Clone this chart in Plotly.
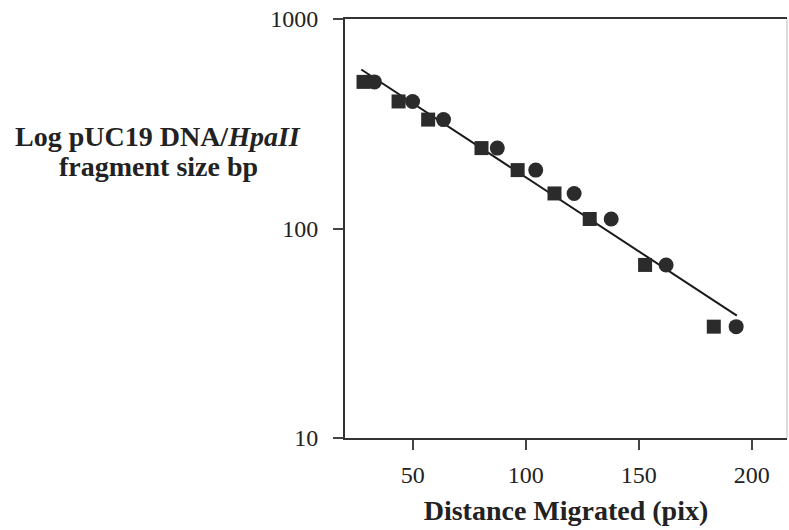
import plotly.graph_objects as go

# Data
fragment_bp = [501, 404, 331, 242, 190, 147, 111, 67, 34]
dist_square = [28.2, 43.7, 56.8, 80.4, 96.4, 112.7, 128.3, 152.8, 183.2]
dist_circle = [33.0, 49.9, 63.6, 87.4, 104.4, 121.4, 137.8, 162.1, 193.1]
fit_x = [27.2, 193.4]
fit_y = [574, 38.4]

x_ticks = [50, 100, 150, 200]
y_ticks = [10, 100, 1000]
y_ticklabels = ["10", "100", "1000"]

mark_color = "#2b2b2b"
font_family = "Liberation Serif, Times New Roman, serif"

fig = go.Figure()
fig.add_trace(go.Scatter(x=fit_x, y=fit_y, mode="lines",
                         line=dict(color="#1a1a1a", width=2), showlegend=False,
                         hoverinfo="skip"))
fig.add_trace(go.Scatter(x=dist_square, y=fragment_bp, mode="markers",
                         marker=dict(symbol="square", size=14, color=mark_color),
                         showlegend=False))
fig.add_trace(go.Scatter(x=dist_circle, y=fragment_bp, mode="markers",
                         marker=dict(symbol="circle", size=15, color=mark_color),
                         showlegend=False))

fig.update_layout(
    width=789, height=530,
    margin=dict(l=345, r=2, t=19, b=92),
    paper_bgcolor="white", plot_bgcolor="white",
    font=dict(family=font_family, size=24, color="#222"),
    xaxis=dict(range=[20, 215.6], tickvals=x_ticks, ticks="outside", ticklen=10,
               tickwidth=1.5, tickcolor="#444", showline=True, linewidth=2,
               linecolor="#333", mirror=True, showgrid=False, zeroline=False,
               ticklabelstandoff=4,
               title=dict(text="<b>Distance Migrated (pix)</b>",
                          font=dict(size=28, family=font_family, color="#222"),
                          standoff=14)),
    yaxis=dict(type="log", range=[1, 3], tickvals=y_ticks, ticktext=y_ticklabels,
               ticks="outside", ticklen=10, tickwidth=1.5, tickcolor="#444",
               showline=True, linewidth=2, linecolor="#333", showgrid=False,
               zeroline=False, ticklabelstandoff=10),
    shapes=[dict(type="line", xref="paper", yref="paper", x0=1, x1=1, y0=0, y1=1,
                 line=dict(color="#bbbbbb", width=1))],
    annotations=[
        dict(text="<b>Log pUC19 DNA/<i>HpaII</i></b>",
             xref="paper", yref="paper", x=-0.4225, y=0.7184,
             xanchor="center", yanchor="middle", showarrow=False,
             font=dict(size=28, family=font_family, color="#222")),
        dict(text="<b>fragment size bp</b>",
             xref="paper", yref="paper", x=-0.4225, y=0.6468,
             xanchor="center", yanchor="middle", showarrow=False,
             font=dict(size=28, family=font_family, color="#222")),
    ],
)

fig.write_html("out.html")
